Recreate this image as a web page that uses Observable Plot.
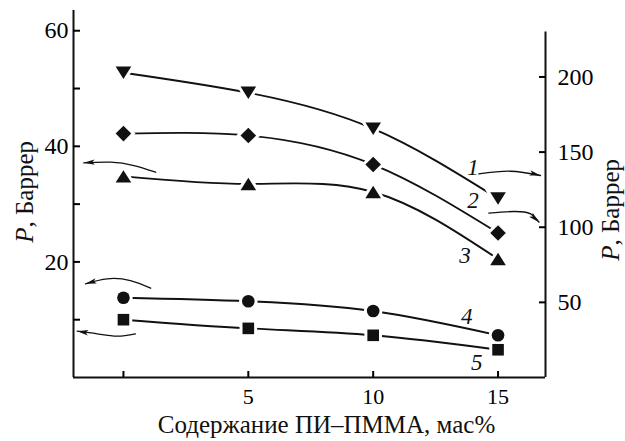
<!DOCTYPE html>
<html><head><meta charset="utf-8">
<script src="https://cdn.jsdelivr.net/npm/d3@7"></script>
<script src="https://cdn.jsdelivr.net/npm/@observablehq/plot@0.6"></script>
<style>
body{margin:0;background:#fff}
#chart svg, #chart svg text { font-family: "Liberation Serif", "Liberation Sans", sans-serif !important; }
</style>
</head><body><div id="chart"></div>
<script>
// ---- data ----
const content = [0, 5, 10, 15];                 // Содержание ПИ–ПММА, мас%
const series1 = [202.8, 189.5, 165.6, 119.1];   // right axis, P, Баррер
const series2 = [162.3, 161.0, 141.7, 96.2];    // right axis
const series3 = [34.8, 33.5, 32.1, 20.5];       // left axis
const series4 = [13.8, 13.2, 11.5, 7.3];        // left axis
const series5 = [10.0, 8.5, 7.3, 4.8];          // left axis
const seriesNames = ["1", "2", "3", "4", "5"];
const xTicks = [0, 5, 10, 15];
const xTickLabels = [5, 10, 15];
const leftTicks = [10, 20, 30, 40, 50, 60];
const leftTickLabels = [20, 40, 60];
const rightTicks = [50, 100, 150, 200];
const rightAxisMax = 230;
const xLabel = "Содержание ПИ–ПММА, мас%";
const yLabelItalic = "P";
const yLabelRest = ", Баррер";

// annotation placement (data units of x and left y)
const labelX = [14.0, 14.0, 13.68, 13.75, 14.15];
const labelY = [36.3, 30.6, 21.1, 10.6, 2.65];
const arrow1 = [[14.23, 35.24], [15.50, 35.69], [16.70, 34.95]];
const arrow2 = [[14.63, 28.43], [15.63, 28.72], [16.30, 28.32], [16.64, 26.87]];
const arrow3 = [[1.29, 35.52], [0.42, 36.68], [-0.52, 37.25], [-1.59, 37.14]];
const arrow4 = [[1.09, 15.45], [0.28, 16.78], [-0.65, 17.08], [-1.52, 16.21]];
const arrow5 = [[0.48, 7.56], [-0.25, 7.15], [-1.05, 7.56], [-1.85, 8.01]];
const arrowAngles = [14, 42, 176, 165, 188];

// ---- helpers ----
const k = 0.26; // right-axis units -> left-axis units
const poly = (pts) => ({draw(ctx, size) {
  const r = Math.sqrt(size / Math.PI);
  ctx.moveTo(pts[0][0] * r, pts[0][1] * r);
  for (let i = 1; i < pts.length; i++) ctx.lineTo(pts[i][0] * r, pts[i][1] * r);
  ctx.closePath();
}});
const triDown = poly([[-1, -0.8], [1, -0.8], [0, 0.8]]);
const triUp = poly([[-1, 0.8], [1, 0.8], [0, -0.8]]);
const diamond = poly([[0, -1], [1, 0], [0, 1], [-1, 0]]);
const square = poly([[-1, -1], [1, -1], [1, 1], [-1, 1]]);
const head = (deg) => ({draw(ctx) {
  const a = deg * Math.PI / 180, c = Math.cos(a), s = Math.sin(a);
  const P = [[0, 0], [-11, -2.7], [-8.5, 0], [-11, 2.7]].map(([x, y]) => [x * c - y * s, x * s + y * c]);
  ctx.moveTo(...P[0]); ctx.lineTo(...P[1]); ctx.lineTo(...P[2]); ctx.lineTo(...P[3]); ctx.closePath();
}});

const rows = (vals, f) => content.map((c, i) => ({c, v: vals[i] * f}));
const S = [
  {data: rows(series1, k), symbol: triDown, r: 7.8},
  {data: rows(series2, k), symbol: diamond, r: 7.8},
  {data: rows(series3, 1), symbol: triUp, r: 7.8},
  {data: rows(series4, 1), symbol: "circle", r: 6.3},
  {data: rows(series5, 1), symbol: square, r: 5.8}
];
const arrows = [arrow1, arrow2, arrow3, arrow4, arrow5].map(a => a.map(([x, y]) => ({x, y})));
const labels = seriesNames.map((t, i) => ({t, x: labelX[i], y: labelY[i]}));

const font = "Liberation Serif, Liberation Sans";
const chart = Plot.plot({
  width: 625, height: 441,
  marginLeft: 73, marginRight: 80, marginTop: 10, marginBottom: 64,
  style: {fontFamily: font, fontSize: "24px", background: "#fff", color: "#000"},
  x: {domain: [-2, 16.9], axis: null},
  y: {domain: [0, 63.5], axis: null},
  marks: [
    ...S.map(s => Plot.line(s.data, {x: "c", y: "v", curve: "natural", stroke: "#111", strokeWidth: 1.9})),
    ...arrows.map(a => Plot.line(a, {x: "x", y: "y", curve: "natural", stroke: "#111", strokeWidth: 1.3})),
    ...S.map(s => Plot.dot(s.data, {x: "c", y: "v", symbol: s.symbol, r: s.r, fill: "#fff", stroke: "#fff", strokeWidth: 6})),
    ...S.map(s => Plot.dot(s.data, {x: "c", y: "v", symbol: s.symbol, r: s.r, fill: "#111", stroke: "none"})),
    ...arrows.map((a, i) => Plot.dot([a[a.length - 1]], {x: "x", y: "y", symbol: head(arrowAngles[i]), r: 4, fill: "#111", stroke: "none"})),
    Plot.ruleX([-2], {stroke: "#111", strokeWidth: 2}),
    Plot.ruleX([16.9], {y1: 0, y2: rightAxisMax * k, stroke: "#111", strokeWidth: 2}),
    Plot.ruleY([0], {stroke: "#111", strokeWidth: 2}),
    Plot.axisX({ticks: xTicks, tickSize: -6, tickPadding: 17, strokeWidth: 2, fontSize: 22, fontFamily: font,
      tickFormat: d => xTickLabels.includes(d) ? String(d) : "", label: null}),
    Plot.axisY({anchor: "left", ticks: leftTicks, tickSize: -7, tickPadding: 12, strokeWidth: 2, fontSize: 24, fontFamily: font,
      tickFormat: d => leftTickLabels.includes(d) ? String(d) : "", label: null}),
    Plot.axisY({anchor: "right", ticks: rightTicks.map(d => d * k), tickSize: -7, tickPadding: 19, strokeWidth: 2, fontSize: 24, fontFamily: font,
      tickFormat: d => String(Math.round(d / k)), label: null}),
    Plot.text(labels, {x: "x", y: "y", text: "t", fontStyle: "italic", fontSize: 23, fontFamily: font, fill: "#111"}),
    Plot.text([xLabel], {frameAnchor: "bottom", dx: 17, dy: 47, lineAnchor: "middle", fontSize: 25, fontFamily: font, fill: "#111"}),
    Plot.text([yLabelItalic], {frameAnchor: "left", dx: -49, dy: 33.5, rotate: -90, textAnchor: "end", lineAnchor: "middle", fontStyle: "italic", fontSize: 25, fontFamily: font, fill: "#111"}),
    Plot.text([yLabelRest], {frameAnchor: "left", dx: -49, dy: 33.5, rotate: -90, textAnchor: "start", lineAnchor: "middle", fontSize: 25, fontFamily: font, fill: "#111"}),
    Plot.text([yLabelItalic], {frameAnchor: "right", dx: 65, dy: 51.5, rotate: -90, textAnchor: "end", lineAnchor: "middle", fontStyle: "italic", fontSize: 25, fontFamily: font, fill: "#111"}),
    Plot.text([yLabelRest], {frameAnchor: "right", dx: 65, dy: 51.5, rotate: -90, textAnchor: "start", lineAnchor: "middle", fontSize: 25, fontFamily: font, fill: "#111"})
  ]
});
document.getElementById("chart").append(chart);
</script>
</body></html>
